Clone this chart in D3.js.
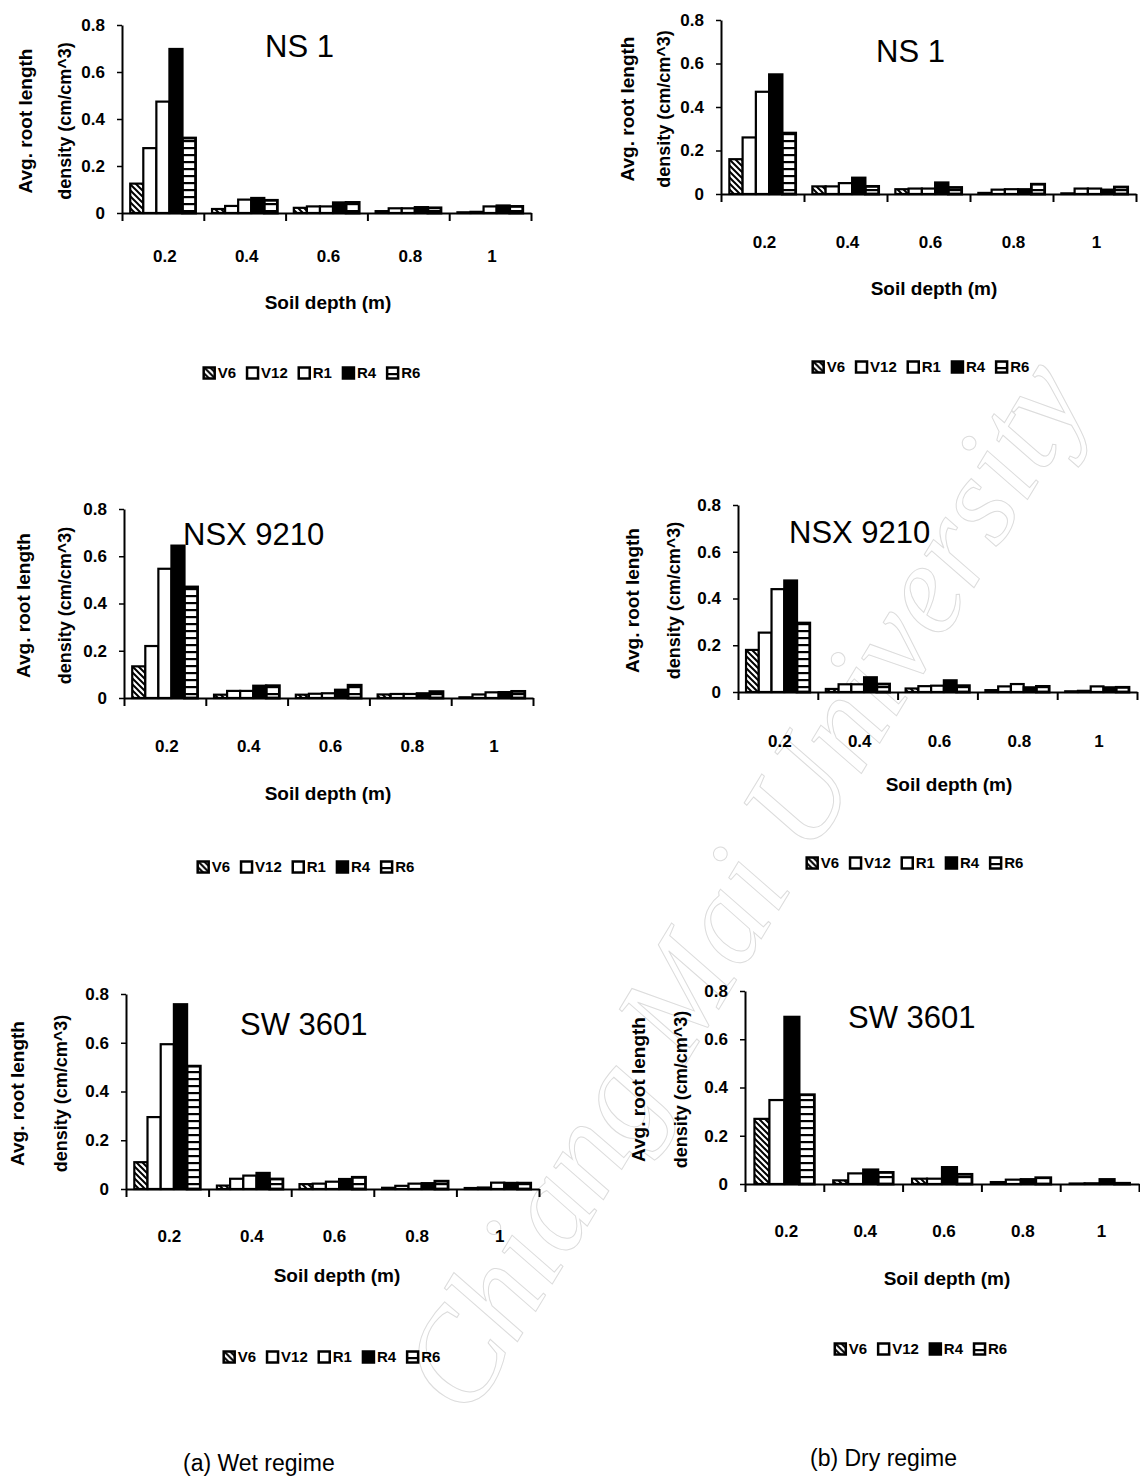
<!DOCTYPE html>
<meta charset="utf-8">
<head>
<style>
  body { margin: 0; background: #fff; }
  svg text { font-family: "Liberation Sans", Arial, sans-serif; fill: #000; }
</style>
</head>
<body>
<script src="https://cdn.jsdelivr.net/npm/d3@7/dist/d3.min.js"></script>
<svg id="fig" width="1140" height="1477"></svg>
<script>

// categories
var depths = ["0.2", "0.4", "0.6", "0.8", "1"];
var seriesAll = ["V6", "V12", "R1", "R4", "R6"];
var seriesNoR1 = ["V6", "V12", "R4", "R6"];
var yTicks = [0, 0.2, 0.4, 0.6, 0.8];

// avg. root length density, one row per growth stage, one value per depth
var wetNS1 = [
  [0.125, 0.017, 0.022, 0.008, 0.003],
  [0.276, 0.030, 0.028, 0.020, 0.005],
  [0.474, 0.057, 0.028, 0.020, 0.028],
  [0.698, 0.064, 0.045, 0.025, 0.032],
  [0.319, 0.054, 0.045, 0.022, 0.028]
];
var dryNS1 = [
  [0.160, 0.035, 0.022, 0.005, 0.003],
  [0.260, 0.035, 0.025, 0.020, 0.025],
  [0.470, 0.050, 0.025, 0.022, 0.025],
  [0.550, 0.075, 0.053, 0.022, 0.020],
  [0.280, 0.035, 0.030, 0.045, 0.032]
];
var wetNSX = [
  [0.134, 0.014, 0.014, 0.015, 0.003],
  [0.220, 0.030, 0.018, 0.017, 0.015],
  [0.547, 0.030, 0.020, 0.017, 0.024],
  [0.645, 0.052, 0.035, 0.020, 0.025],
  [0.470, 0.052, 0.054, 0.027, 0.028]
];
var dryNSX = [
  [0.180, 0.013, 0.015, 0.008, 0.003],
  [0.254, 0.033, 0.025, 0.024, 0.005],
  [0.440, 0.033, 0.027, 0.034, 0.024],
  [0.477, 0.063, 0.050, 0.020, 0.020],
  [0.295, 0.034, 0.027, 0.024, 0.020]
];
var wetSW = [
  [0.110, 0.014, 0.020, 0.005, 0.004],
  [0.295, 0.042, 0.022, 0.013, 0.006],
  [0.594, 0.055, 0.030, 0.022, 0.026],
  [0.758, 0.066, 0.041, 0.024, 0.025],
  [0.504, 0.041, 0.048, 0.032, 0.024]
];
var drySW = [
  [0.270, 0.015, 0.022, 0.008, 0.002],
  [0.348, 0.044, 0.022, 0.018, 0.003],
  [0.693, 0.060, 0.070, 0.020, 0.020],
  [0.370, 0.048, 0.040, 0.026, 0.003]
];

// layout of the six panels
var panels = [
  {data: wetNS1, series: seriesAll, title: "NS 1", x0: 122, x1: 531, yTop: 25, y0: 213,
   titleX: 265, titleY: 57, yt1: 25, yt2: 65, xlabY: 256, xtX: 328, xtY: 302, legX: 312, legY: 373},
  {data: dryNS1, series: seriesAll, title: "NS 1", x0: 721, x1: 1136, yTop: 20, y0: 194,
   titleX: 876, titleY: 62, yt1: 627, yt2: 664, xlabY: 242, xtX: 934, xtY: 288, legX: 921, legY: 367},
  {data: wetNSX, series: seriesAll, title: "NSX 9210", x0: 124, x1: 533, yTop: 509, y0: 698,
   titleX: 183, titleY: 545, yt1: 23, yt2: 65, xlabY: 746, xtX: 328, xtY: 793, legX: 306, legY: 867},
  {data: dryNSX, series: seriesAll, title: "NSX 9210", x0: 738, x1: 1137, yTop: 505, y0: 692,
   titleX: 789, titleY: 543, yt1: 632, yt2: 674, xlabY: 741, xtX: 949, xtY: 784, legX: 915, legY: 863},
  {data: wetSW, series: seriesAll, title: "SW 3601", x0: 126, x1: 539, yTop: 994, y0: 1189,
   titleX: 240, titleY: 1035, yt1: 17, yt2: 61, xlabY: 1236, xtX: 337, xtY: 1275, legX: 332, legY: 1357},
  {data: drySW, series: seriesNoR1, title: "SW 3601", x0: 745, x1: 1139, yTop: 991, y0: 1184,
   titleX: 848, titleY: 1028, yt1: 638, yt2: 681, xlabY: 1231, xtX: 947, xtY: 1278, legX: 921, legY: 1349}
];

var svg = d3.select("#fig");
svg.append("rect").attr("width", 1140).attr("height", 1477).attr("fill", "#fff");

var defs = svg.append("defs");
var hatch = defs.append("pattern").attr("id", "hatch").attr("patternUnits", "userSpaceOnUse")
  .attr("width", 6).attr("height", 6);
hatch.append("rect").attr("width", 6).attr("height", 6).attr("fill", "#fff");
hatch.append("path").attr("d", "M-1,-1 L7,7 M-4,2 L4,10 M2,-4 L10,4")
  .attr("stroke", "#000").attr("stroke-width", 2);
var ladder = defs.append("pattern").attr("id", "ladder").attr("patternUnits", "userSpaceOnUse")
  .attr("width", 8).attr("height", 7);
ladder.append("rect").attr("width", 8).attr("height", 7).attr("fill", "#fff");
ladder.append("rect").attr("width", 8).attr("height", 2.2).attr("fill", "#000");

var fills = {V6: "url(#hatch)", V12: "#fff", R1: "#fff", R4: "#000", R6: "url(#ladder)"};

// watermark
svg.append("text")
  .attr("transform", "translate(470,1420) rotate(-58.8)")
  .style("font-family", "'Liberation Serif', serif").style("font-style", "italic")
  .style("font-size", "130px").style("fill", "none")
  .attr("stroke", "#dcdcdc").attr("stroke-width", 1)
  .text("Chiang Mai University");

panels.forEach(function(p) {
  var g = svg.append("g");

  var x = d3.scaleBand().domain(depths).range([p.x0, p.x1]);
  var xs = d3.scaleBand().domain(p.series).range([0, x.bandwidth()]).paddingOuter(0.63);
  var xb = d3.scaleLinear().domain([0, depths.length]).range([p.x0, p.x1]);
  var y = d3.scaleLinear().domain([0, 0.8]).range([p.y0, p.yTop]);

  // bars
  var rows = [];
  p.series.forEach(function(s, si) {
    depths.forEach(function(d, di) {
      rows.push({s: s, d: d, v: p.data[si][di]});
    });
  });
  g.selectAll("rect.bar").data(rows).enter().append("rect")
    .attr("class", "bar")
    .attr("x", function(r) { return x(r.d) + xs(r.s); })
    .attr("width", xs.bandwidth())
    .attr("y", function(r) { return y(r.v); })
    .attr("height", function(r) { return y(0) - y(r.v); })
    .attr("fill", function(r) { return fills[r.s]; })
    .attr("stroke", "#000")
    .attr("stroke-width", function(r) { return r.s === "R6" ? 2.8 : 2.2; });

  // y axis
  var ya = g.append("g").attr("transform", "translate(" + p.x0 + ",0)")
    .call(d3.axisLeft(y).tickValues(yTicks).tickSize(5).tickSizeOuter(0).tickPadding(12)
      .tickFormat(function(d) { return d === 0 ? "0" : d3.format(".1f")(d); }));
  ya.select(".domain").attr("stroke-width", 2);
  ya.selectAll("line").attr("stroke-width", 1.5);
  ya.selectAll("text").style("font-size", "17px").style("font-weight", "bold")
    .style("font-family", "'Liberation Sans', Arial, sans-serif");

  // x axis with ticks on the category boundaries
  var xa = g.append("g").attr("transform", "translate(0," + p.y0 + ")")
    .call(d3.axisBottom(xb).tickValues(d3.range(depths.length + 1)).tickSize(8)
      .tickSizeOuter(0).tickFormat(""));
  xa.select(".domain").attr("stroke-width", 2);
  xa.selectAll("line").attr("stroke-width", 2);

  g.selectAll("text.xlab").data(depths).enter().append("text")
    .attr("class", "xlab")
    .attr("x", function(d) { return x(d) + x.bandwidth() / 2 + 2; })
    .attr("y", p.xlabY).attr("dy", "0.35em")
    .attr("text-anchor", "middle")
    .style("font-size", "17px").style("font-weight", "bold")
    .text(function(d) { return d; });

  // titles
  g.append("text").attr("x", p.titleX).attr("y", p.titleY)
    .style("font-size", "31px").text(p.title);

  g.append("text").attr("x", p.xtX).attr("y", p.xtY).attr("dy", "0.35em")
    .attr("text-anchor", "middle").style("font-size", "19px").style("font-weight", "bold")
    .text("Soil depth (m)");

  var yc = (p.y0 + p.yTop) / 2 + 2;
  g.append("text").attr("transform", "translate(" + p.yt1 + "," + yc + ") rotate(-90)")
    .attr("dy", "0.35em").attr("text-anchor", "middle")
    .style("font-size", "19px").style("font-weight", "bold").text("Avg. root length");
  g.append("text").attr("transform", "translate(" + p.yt2 + "," + yc + ") rotate(-90)")
    .attr("dy", "0.35em").attr("text-anchor", "middle")
    .style("font-size", "18px").style("font-weight", "bold").text("density (cm/cm^3)");

  // legend
  var lg = g.append("g");
  var cx = 0;
  p.series.forEach(function(s) {
    lg.append("rect").attr("x", cx).attr("y", -5.5).attr("width", 11).attr("height", 11)
      .attr("fill", fills[s]).attr("stroke", "#000").attr("stroke-width", 2.5);
    var t = lg.append("text").attr("x", cx + 14).attr("y", 0).attr("dy", "0.35em")
      .style("font-size", "15px").style("font-weight", "bold").text(s);
    cx += 14 + t.node().getComputedTextLength() + 11;
  });
  lg.attr("transform", "translate(" + (p.legX - (cx - 11) / 2) + "," + p.legY + ")");
});

svg.append("text").attr("x", 183).attr("y", 1463).attr("dy", "0.35em")
  .style("font-size", "23px").text("(a) Wet regime");
svg.append("text").attr("x", 810).attr("y", 1458).attr("dy", "0.35em")
  .style("font-size", "23px").text("(b) Dry regime");

</script>
</body>
